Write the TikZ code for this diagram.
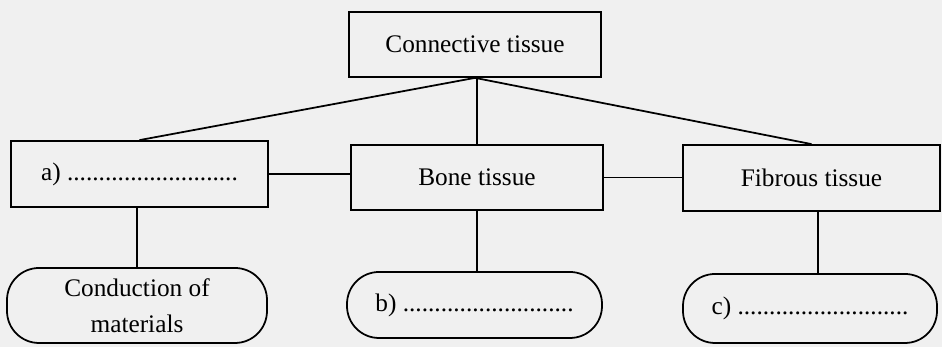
\documentclass[tikz,border=0pt]{standalone}
\usepackage{fontspec}
\setmainfont{Liberation Serif}
\usetikzlibrary{calc}

\begin{document}
\begin{tikzpicture}[
  box/.style={draw, line width=1pt, inner sep=0pt, font=\fontsize{14.4}{20.5}\selectfont, align=center},
  pill/.style={box, rounded corners=0.64cm}
]
\useasboundingbox (0,0) rectangle (18.84,6.94);
\fill[black!6] (0,0) rectangle (18.84,6.94);

\node[box, minimum width=5.04cm, minimum height=1.3cm] (conn) at (9.5,6.05) {Connective tissue};

\node[box, minimum width=5.14cm, minimum height=1.32cm] (a) at (2.79,3.46) {a) ...........................};
\node[box, minimum width=5.04cm, minimum height=1.3cm] (bone) at (9.54,3.39) {Bone tissue};
\node[box, minimum width=5.14cm, minimum height=1.32cm] (fib) at (16.23,3.38) {Fibrous tissue};

\node[pill, minimum width=5.2cm, minimum height=1.5cm] (cond) at (2.74,0.83) {Conduction of\\materials};
\node[pill, minimum width=5.1cm, minimum height=1.32cm] (b) at (9.49,0.84) {b) ...........................};
\node[pill, minimum width=5.08cm, minimum height=1.38cm] (c) at (16.2,0.77) {c) ...........................};

% top level
\draw[line width=1pt] (conn.south) -- (a.north);
\draw[line width=1pt] (conn.south) -- (fib.north);
\draw[line width=1pt] (bone.north) -- (bone.north |- conn.south);

% middle row
\draw[line width=1pt] (a.east) -- (a.east -| bone.west);
\draw[line width=1pt] (bone.east) -- (bone.east -| fib.west);

% down to the round boxes
\draw[line width=1pt] (cond.north) -- (cond.north |- a.south);
\draw[line width=1pt] (bone.south) -- (bone.south |- b.north);
\draw[line width=1pt] ([xshift=0.13cm]fib.south) -- ([xshift=0.16cm]c.north);

\end{tikzpicture}
\end{document}
